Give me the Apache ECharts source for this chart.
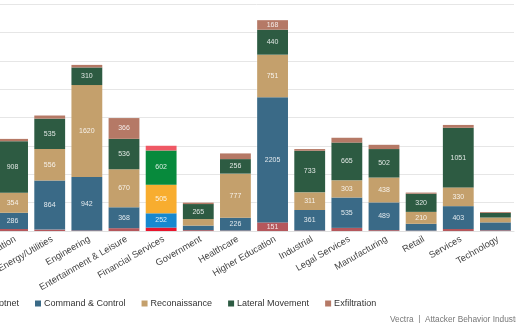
<!DOCTYPE html>
<html><head><meta charset="utf-8">
<script src="https://cdn.jsdelivr.net/npm/echarts@6/dist/echarts.min.js"></script>
<style>html,body{margin:0;padding:0;background:#fff}#c{width:516px;height:323px}</style>
</head><body><div id="c"></div>
<script>
const categories = ["Education","Energy/Utilities","Engineering","Entertainment & Leisure","Financial Services","Government","Healthcare","Higher Education","Industrial","Legal Services","Manufacturing","Retail","Services","Technology"];
const seriesNames = ["Botnet","Command & Control","Reconaissance","Lateral Movement","Exfiltration"];
const botnet  = [35, 25, 10, 50, 60, 15, 8, 151, 9, 55, 15, 7, 35, 12];
const cnc     = [286, 864, 942, 368, 252, 80, 226, 2205, 361, 535, 489, 120, 403, 140];
const recon   = [354, 556, 1620, 670, 505, 115, 777, 751, 311, 303, 438, 210, 330, 85];
const lateral = [908, 535, 310, 536, 602, 265, 256, 440, 733, 665, 502, 320, 1051, 82];
const exfil   = [40, 55, 45, 366, 83, 25, 100, 168, 30, 85, 75, 20, 50, 15];
const yTicks = [0, 500, 1000, 1500, 2000, 2500, 3000, 3500, 4000];

const colors = ["#b5575c", "#3a6a87", "#c4a06c", "#2d5b42", "#b57966"];
const highlightCategory = "Financial Services";
const highlightColors = ["#e8142c", "#1788cf", "#f8ad2f", "#078a3c", "#ef5864"];

const values = [botnet, cnc, recon, lateral, exfil];
const hi = categories.indexOf(highlightCategory);

const series = seriesNames.map((name, si) => ({
  name: name,
  type: 'bar',
  stack: 'total',
  barCategoryGap: '17%',
  itemStyle: { color: colors[si] },
  label: {
    show: true,
    position: 'inside',
    fontSize: 7,
    fontFamily: 'Liberation Sans, Arial, sans-serif',
    color: 'rgba(255,255,255,0.85)',
    formatter: p => (p.value >= 150 ? String(p.value) : '')
  },
  data: values[si].map((v, ci) => ci === hi ? { value: v, itemStyle: { color: highlightColors[si] } } : v)
}));

const chart = echarts.init(document.getElementById('c'), null, { renderer: 'canvas' });
chart.setOption({
  animation: false,
  textStyle: { fontFamily: 'Liberation Sans, Arial, sans-serif' },
  color: colors,
  grid: { left: -6, right: 2, top: 4, bottom: 92, containLabel: false, outerBoundsMode: 'none' },
  legend: {
    left: -21, top: 294,
    icon: 'rect', itemWidth: 6, itemHeight: 6, itemGap: 16,
    textStyle: { fontSize: 9, color: '#333', padding: [0, 0, 0, -2] },
    data: seriesNames
  },
  xAxis: {
    type: 'category',
    data: categories,
    axisLine: { lineStyle: { color: '#e0e0e0' } },
    axisTick: { show: false },
    axisLabel: { interval: 0, rotate: 30, fontSize: 9.3, color: '#444', margin: 9, padding: [0, -3, 0, 0], hideOverlap: false }
  },
  yAxis: {
    type: 'value',
    min: yTicks[0], max: yTicks[yTicks.length - 1], interval: yTicks[1] - yTicks[0],
    axisLine: { show: false }, axisTick: { show: false },
    axisLabel: { show: false },
    splitLine: { lineStyle: { color: '#e6e6e6', width: 1 } }
  },
  graphic: [{
    type: 'text', left: 390, top: 316,
    style: { text: 'Vectra  |  Attacker Behavior Industry Report', fontSize: 8.3, fill: '#777', fontFamily: 'Liberation Sans, Arial, sans-serif' }
  }],
  series: series
});
</script></body></html>
